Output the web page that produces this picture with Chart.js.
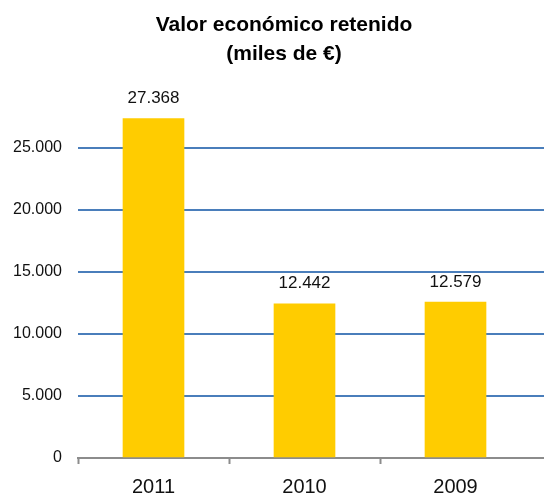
<!DOCTYPE html>
<html>
<head>
<meta charset="utf-8">
<script src="https://cdn.jsdelivr.net/npm/chart.js@4/dist/chart.umd.min.js"></script>
<style>
  html, body { margin: 0; padding: 0; background: #fff; }
  #wrap { width: 544px; height: 500px; overflow: hidden; position: relative; }
</style>
</head>
<body>
<div id="wrap">
  <canvas id="myChart" width="568" height="500"></canvas>
</div>
<script>
/****data*****/
const categories = ['2011', '2010', '2009'];
const values = [27368, 12442, 12579];
const yTicks = [0, 5000, 10000, 15000, 20000, 25000];
const titleLines = ['Valor económico retenido', '(miles de €)'];

const FONT = '"Liberation Sans", Arial, sans-serif';

// 12442 -> "12.442"
function fmt(v) {
  return String(v).replace(/\B(?=(\d{3})+(?!\d))/g, '.');
}

/****value labels above the bars*****/
const valueLabels = {
  id: 'valueLabels',
  afterDatasetsDraw(chart) {
    const ctx = chart.ctx;
    const meta = chart.getDatasetMeta(0);
    ctx.save();
    ctx.font = '17px ' + FONT;
    ctx.fillStyle = '#111';
    ctx.textAlign = 'center';
    ctx.textBaseline = 'middle';
    meta.data.forEach((bar, i) => {
      ctx.fillText(fmt(values[i]), bar.x, bar.y - 20);
    });
    ctx.restore();
  }
};

const data = {
  datasets: [{
    data: values.map((v, i) => ({ x: i, y: v })),
    backgroundColor: '#FFCC00',
    borderWidth: 0,
    barThickness: 61
  }]
};

const config = {
  type: 'bar',
  data: data,
  plugins: [valueLabels],
  options: {
    responsive: false,
    animation: false,
    devicePixelRatio: 1,
    layout: { padding: 0 },
    plugins: {
      legend: { display: false },
      tooltip: { enabled: false },
      title: {
        display: true,
        text: titleLines,
        color: '#000',
        font: { family: FONT, size: 21, weight: 'bold', lineHeight: 1.38 },
        padding: { top: 11, bottom: 29.5 }
      }
    },
    scales: {
      x: {
        type: 'linear',
        offset: false,
        min: -0.5,
        max: -0.5 + 490 / 151,
        afterBuildTicks: (scale) => {
          scale.ticks = categories.map((c, i) => ({ value: i }));
        },
        afterFit: (scale) => { scale.height = 42; },
        border: { display: true, color: '#8c8c8c', width: 2 },
        grid: {
          offset: true,
          drawOnChartArea: false,
          drawTicks: true,
          tickLength: 6,
          tickWidth: 2,
          tickColor: (ctx) => (ctx.tick ? '#8c8c8c' : 'rgba(0,0,0,0)')
        },
        ticks: {
          padding: 11,
          color: '#111',
          font: { family: FONT, size: 20 },
          maxRotation: 0,
          callback: (v) => categories[v]
        }
      },
      y: {
        min: 0,
        max: 29000,
        afterBuildTicks: (scale) => {
          scale.ticks = yTicks.map(v => ({ value: v }));
        },
        afterFit: (scale) => { scale.width = 78; },
        border: { display: false },
        grid: {
          drawTicks: false,
          lineWidth: 2,
          color: (ctx) => (ctx.tick && ctx.tick.value === 0 ? 'rgba(0,0,0,0)' : '#4A7EBB')
        },
        ticks: {
          padding: 16,
          color: '#111',
          font: { family: FONT, size: 16 },
          callback: (v) => fmt(v)
        }
      }
    }
  }
};

var myChart = new Chart(
  document.getElementById('myChart'),
  config
);
/*****************/
</script>
</body>
</html>
